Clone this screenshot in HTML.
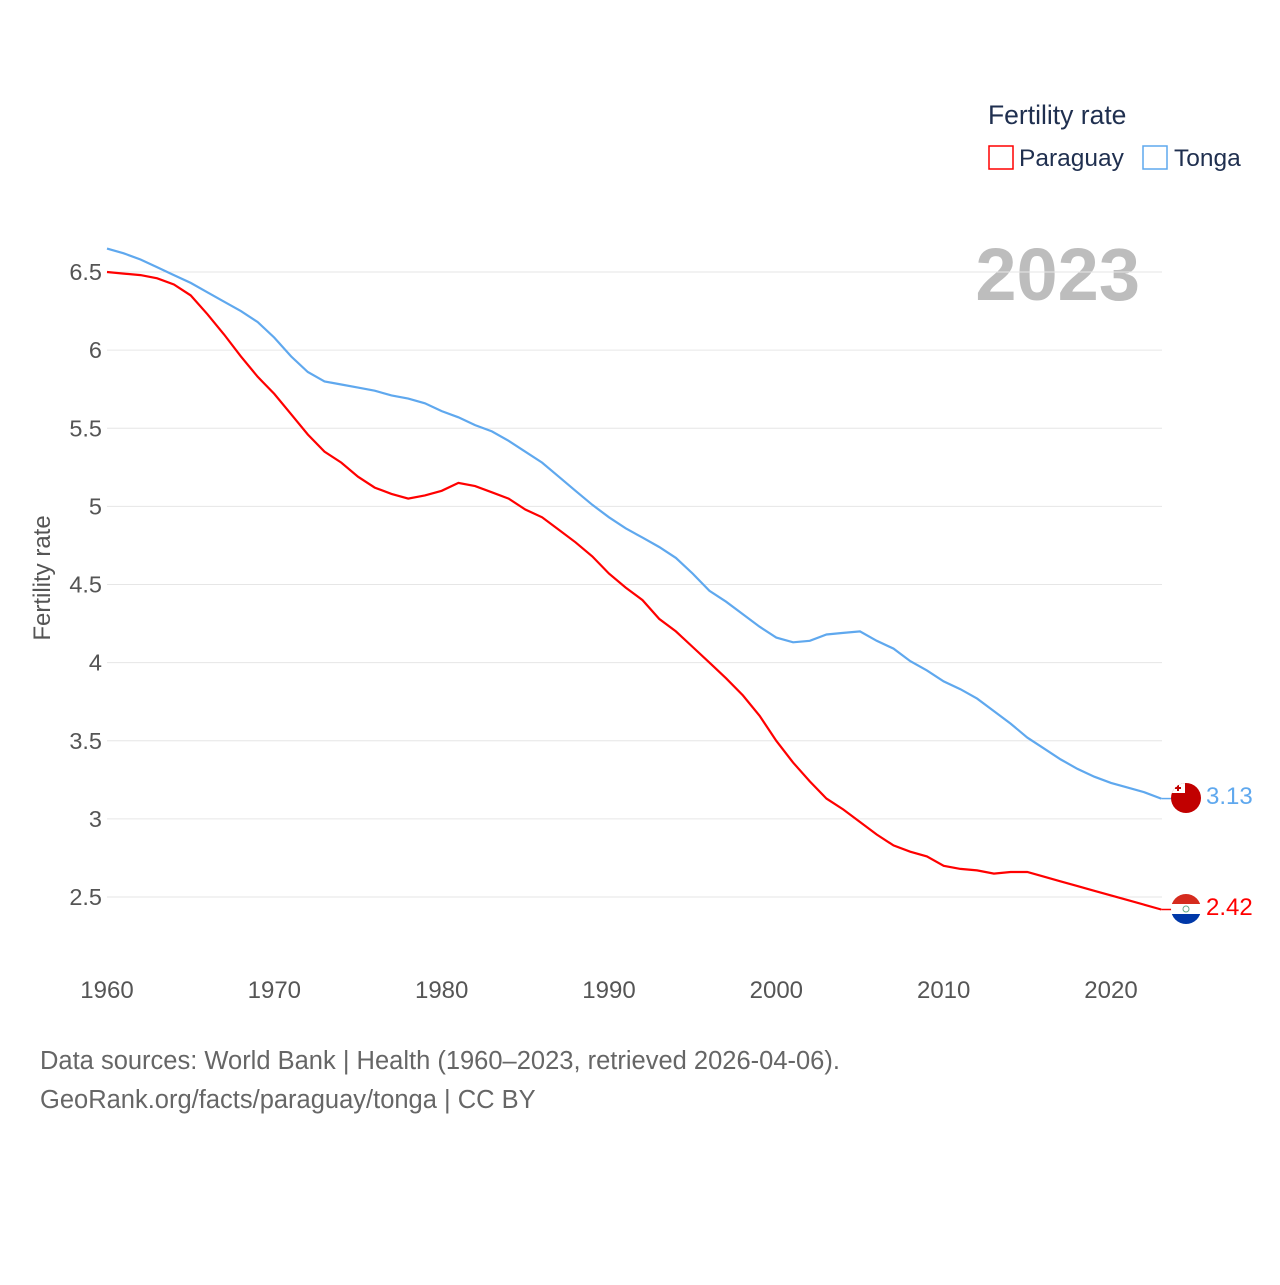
<!DOCTYPE html>
<html><head><meta charset="utf-8"><style>
body{margin:0;background:#fff;font-family:"Liberation Sans",sans-serif;}
svg text{font-family:"Liberation Sans",sans-serif;}
</style></head><body>
<svg id="chart" width="1280" height="1280" viewBox="0 0 1280 1280">
<text x="988" y="124" font-size="26.5" fill="#1f2f4f">Fertility rate</text>
<g><rect x="989" y="146" width="24" height="23" fill="none" stroke="#ff0000" stroke-width="1.5"/><text x="1019" y="166" font-size="24.5" fill="#1f2f4f">Paraguay</text></g>
<g><rect x="1143" y="146" width="24" height="23" fill="none" stroke="#5fa8ee" stroke-width="1.5"/><text x="1174" y="166" font-size="24.5" fill="#1f2f4f">Tonga</text></g>
<text x="1140" y="300" font-size="74" font-weight="bold" fill="#bdbdbd" text-anchor="end">2023</text>
<text transform="translate(50,578) rotate(-90)" font-size="24" fill="#555" text-anchor="middle">Fertility rate</text>
<g id="grid"></g><g id="lines"></g>
<g><clipPath id="c1"><circle cx="1186" cy="798" r="15"/></clipPath><g clip-path="url(#c1)"><rect x="1171" y="783" width="30" height="30" fill="#c10000"/><rect x="1171" y="783" width="14" height="10" fill="#fff"/><path d="M1178 785v6M1175 788h6" stroke="#c10000" stroke-width="2"/></g></g>
<g><clipPath id="c2"><circle cx="1186" cy="909" r="15"/></clipPath><g clip-path="url(#c2)"><rect x="1171" y="894" width="30" height="10" fill="#d52b1e"/><rect x="1171" y="904" width="30" height="10" fill="#fff"/><rect x="1171" y="914" width="30" height="10" fill="#0038a8"/><circle cx="1186" cy="909" r="3" fill="none" stroke="#6a8" stroke-width="1"/></g></g>
<text x="1206" y="804" font-size="24" fill="#5fa8ee">3.13</text>
<text x="1206" y="915" font-size="24" fill="#ff0000">2.42</text>
<text x="40" y="1069" font-size="25.5" fill="#666">Data sources: World Bank | Health (1960–2023, retrieved 2026-04-06).</text>
<text x="40" y="1108" font-size="25.5" fill="#666">GeoRank.org/facts/paraguay/tonga | CC BY</text>
</svg>
<script>
const years=[];for(let y=1960;y<=2023;y++)years.push(y);
const paraguay=[6.50,6.49,6.48,6.46,6.42,6.35,6.23,6.10,5.96,5.83,5.72,5.59,5.46,5.35,5.28,5.19,5.12,5.08,5.05,5.07,5.10,5.15,5.13,5.09,5.05,4.98,4.93,4.85,4.77,4.68,4.57,4.48,4.40,4.28,4.20,4.10,4.00,3.90,3.79,3.66,3.50,3.36,3.24,3.13,3.06,2.98,2.90,2.83,2.79,2.76,2.70,2.68,2.67,2.65,2.66,2.66,2.63,2.60,2.57,2.54,2.51,2.48,2.45,2.42];
const tonga=[6.65,6.62,6.58,6.53,6.48,6.43,6.37,6.31,6.25,6.18,6.08,5.96,5.86,5.80,5.78,5.76,5.74,5.71,5.69,5.66,5.61,5.57,5.52,5.48,5.42,5.35,5.28,5.19,5.10,5.01,4.93,4.86,4.80,4.74,4.67,4.57,4.46,4.39,4.31,4.23,4.16,4.13,4.14,4.18,4.19,4.20,4.14,4.09,4.01,3.95,3.88,3.83,3.77,3.69,3.61,3.52,3.45,3.38,3.32,3.27,3.23,3.20,3.17,3.13];
const yTicks=[2.5,3,3.5,4,4.5,5,5.5,6,6.5];
const yTickLabels=["2.5","3","3.5","4","4.5","5","5.5","6","6.5"];
const xTicks=[1960,1970,1980,1990,2000,2010,2020];
const X=y=>107+(y-1960)*(1111-107)/60;
const Y=v=>897-(v-2.5)*156.25;
const ns="http://www.w3.org/2000/svg";
const grid=document.getElementById('grid'),lines=document.getElementById('lines');
yTicks.forEach((t,i)=>{
 const l=document.createElementNS(ns,'line');
 l.setAttribute('x1',107);l.setAttribute('x2',1162);l.setAttribute('y1',Y(t));l.setAttribute('y2',Y(t));
 l.setAttribute('stroke','#e6e6e6');l.setAttribute('stroke-width','1');
 
 
 grid.appendChild(l);
 const tx=document.createElementNS(ns,'text');
 tx.setAttribute('x',102);tx.setAttribute('y',Y(t)+8);tx.setAttribute('text-anchor','end');
 tx.setAttribute('font-size','23.5');tx.setAttribute('fill','#555');tx.textContent=yTickLabels[i];
 
 
 grid.appendChild(tx);
});
xTicks.forEach(t=>{
 const tx=document.createElementNS(ns,'text');
 tx.setAttribute('x',X(t));tx.setAttribute('y',998);tx.setAttribute('text-anchor','middle');
 tx.setAttribute('font-size','24');tx.setAttribute('fill','#555');tx.textContent=t;
 
 
 grid.appendChild(tx);
});
function draw(vals,color,name){
 const p=document.createElementNS(ns,'path');
 p.setAttribute('d',vals.map((v,i)=>(i?'L':'M')+X(years[i]).toFixed(1)+' '+Y(v).toFixed(1)).join(' '));
 p.setAttribute('fill','none');p.setAttribute('stroke',color);p.setAttribute('stroke-width','2.2');
 
 
 lines.appendChild(p);
 const c=document.createElementNS(ns,'line');
 c.setAttribute('x1',X(2023));c.setAttribute('x2',1172);c.setAttribute('y1',Y(vals[vals.length-1]));c.setAttribute('y2',Y(vals[vals.length-1]));
 c.setAttribute('stroke',color);c.setAttribute('stroke-width','1.5');
 
 
 lines.appendChild(c);
}
draw(tonga,'#5fa8ee','tonga-line');
draw(paraguay,'#ff0000','paraguay-line');
</script>
</body></html>
